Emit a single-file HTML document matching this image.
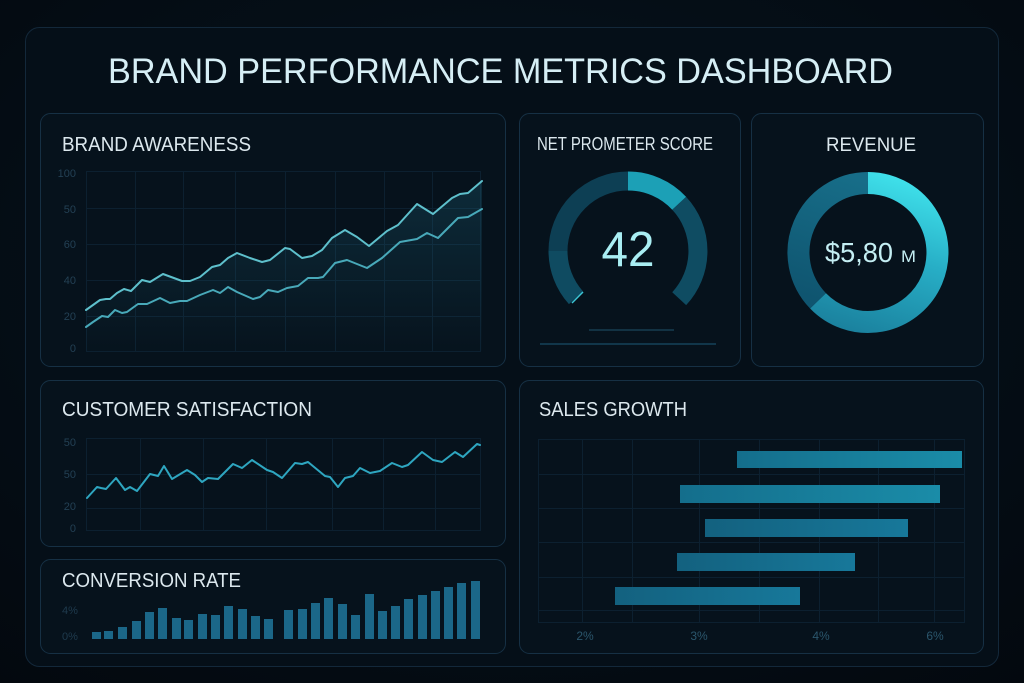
<!DOCTYPE html>
<html>
<head>
<meta charset="utf-8">
<style>
html,body{margin:0;padding:0;background:#040a11;}
svg{display:block;}
text{font-family:"Liberation Sans",sans-serif;}
</style>
</head>
<body>
<svg width="1024" height="683" viewBox="0 0 1024 683" xmlns="http://www.w3.org/2000/svg">
<defs>
  <radialGradient id="bgG" cx="0.5" cy="0.4" r="0.8">
    <stop offset="0" stop-color="#071520"/>
    <stop offset="1" stop-color="#03080e"/>
  </radialGradient>
  <linearGradient id="areaG" x1="0" y1="0" x2="0" y2="1">
    <stop offset="0" stop-color="#2a8fae" stop-opacity="0.2"/>
    <stop offset="1" stop-color="#2a8fae" stop-opacity="0.01"/>
  </linearGradient>
  <linearGradient id="revBright" gradientUnits="userSpaceOnUse" x1="880" y1="172" x2="830" y2="330">
    <stop offset="0" stop-color="#3fe0ea"/>
    <stop offset="0.45" stop-color="#27aec6"/>
    <stop offset="1" stop-color="#1a7f9c"/>
  </linearGradient>
  <linearGradient id="revDark" gradientUnits="userSpaceOnUse" x1="820" y1="300" x2="860" y2="180">
    <stop offset="0" stop-color="#0f5570"/>
    <stop offset="1" stop-color="#176d88"/>
  </linearGradient>
  <linearGradient id="barG1" x1="0" y1="0" x2="1" y2="0">
    <stop offset="0" stop-color="#146e8c"/>
    <stop offset="1" stop-color="#1a8ca8"/>
  </linearGradient>
  <linearGradient id="barG2" x1="0" y1="0" x2="1" y2="0">
    <stop offset="0" stop-color="#13617f"/>
    <stop offset="1" stop-color="#17789a"/>
  </linearGradient>
</defs>

<rect x="0" y="0" width="1024" height="683" fill="url(#bgG)"/>
<rect x="25.5" y="27.5" width="973" height="639" rx="14" fill="#050f18" stroke="#13283a" stroke-width="1"/>

<text x="108" y="83" font-size="35" fill="#d6eef5" textLength="785" lengthAdjust="spacingAndGlyphs">BRAND PERFORMANCE METRICS DASHBOARD</text>

<rect x="40.5" y="113.5" width="465" height="253" rx="10" fill="#06121c" stroke="#163044"/>
<rect x="519.5" y="113.5" width="221" height="253" rx="10" fill="#06121c" stroke="#163044"/>
<rect x="751.5" y="113.5" width="232" height="253" rx="10" fill="#06121c" stroke="#163044"/>
<rect x="40.5" y="380.5" width="465" height="166" rx="10" fill="#06121c" stroke="#163044"/>
<rect x="40.5" y="559.5" width="465" height="94" rx="10" fill="#06121c" stroke="#163044"/>
<rect x="519.5" y="380.5" width="464" height="273" rx="10" fill="#06121c" stroke="#163044"/>

<!-- BRAND AWARENESS -->
<text x="62" y="151" font-size="20" fill="#dce8ee" textLength="189" lengthAdjust="spacingAndGlyphs">BRAND AWARENESS</text>
<g stroke="#0c2030" stroke-width="1" fill="none">
  <rect x="86.5" y="171.5" width="394" height="180"/>
  <line x1="135.5" y1="171" x2="135.5" y2="351"/>
  <line x1="183.5" y1="171" x2="183.5" y2="351"/>
  <line x1="235.5" y1="171" x2="235.5" y2="351"/>
  <line x1="285.5" y1="171" x2="285.5" y2="351"/>
  <line x1="335.5" y1="171" x2="335.5" y2="351"/>
  <line x1="384.5" y1="171" x2="384.5" y2="351"/>
  <line x1="432.5" y1="171" x2="432.5" y2="351"/>
  <line x1="86" y1="208.5" x2="480" y2="208.5"/>
  <line x1="86" y1="244.5" x2="480" y2="244.5"/>
  <line x1="86" y1="280.5" x2="480" y2="280.5"/>
  <line x1="86" y1="316.5" x2="480" y2="316.5"/>
</g>
<g font-size="11" fill="#234054" text-anchor="end">
  <text x="76" y="177">100</text>
  <text x="76" y="213">50</text>
  <text x="76" y="248">60</text>
  <text x="76" y="284">40</text>
  <text x="76" y="320">20</text>
  <text x="76" y="352">0</text>
</g>
<path d="M86,310 93,305 100,300 106,299 110,299 117,293 124,289 131,291 142,280 150,282 163,274 182,281 190,281 200,277 212,267 220,265 228,258 237,253 250,258 262,262 270,260 285,248 290,249 302,258 312,256 322,250 332,238 345,230 357,237 369,246 387,231 398,225 417,204 433,214 452,198 460,194 468,193 482,181 L482,351 L86,351 Z" fill="url(#areaG)"/>
<polyline points="86,327 93,322 102,316 108,317 115,310 122,313 127,312 138,304 147,304 160,298 170,303 180,301 187,301 200,295 213,290 220,293 228,287 237,292 253,299 260,297 268,290 278,292 287,288 298,286 308,278 318,278 323,277 335,263 347,260 367,268 382,258 400,242 417,239 427,233 438,238 458,218 468,217 482,209" fill="none" stroke="#48a9b9" stroke-width="2" stroke-linejoin="round" stroke-linecap="round"/>
<polyline points="86,310 93,305 100,300 106,299 110,299 117,293 124,289 131,291 142,280 150,282 163,274 182,281 190,281 200,277 212,267 220,265 228,258 237,253 250,258 262,262 270,260 285,248 290,249 302,258 312,256 322,250 332,238 345,230 357,237 369,246 387,231 398,225 417,204 433,214 452,198 460,194 468,193 482,181" fill="none" stroke="#5ec0cc" stroke-width="2" stroke-linejoin="round" stroke-linecap="round"/>

<!-- NET PROMOTER SCORE -->
<text x="537" y="150" font-size="18" fill="#dce8ee" textLength="176" lengthAdjust="spacingAndGlyphs">NET PROMETER SCORE</text>
<g fill="none" stroke-width="19">
  <path d="M576.0,297.8 A70,70 0 0 1 558,251" stroke="#0f4b61"/>
  <path d="M558,251 A70,70 0 0 1 628,181" stroke="#0d3f54"/>
  <path d="M628,181 A70,70 0 0 1 679.2,203.3" stroke="#1ca0b6"/>
  <path d="M679.2,203.3 A70,70 0 0 1 679.2,298.7" stroke="#0f4c62"/>
</g>
<line x1="572" y1="303" x2="583" y2="292" stroke="#3cc6d6" stroke-width="1.5"/>
<text x="628" y="266" font-size="49" fill="#a9eef3" text-anchor="middle" textLength="53" lengthAdjust="spacingAndGlyphs">42</text>
<line x1="589" y1="330" x2="674" y2="330" stroke="#163d50" stroke-width="1.5"/>
<line x1="540" y1="344" x2="716" y2="344" stroke="#15435a" stroke-width="1.5"/>

<!-- REVENUE -->
<text x="826" y="151" font-size="19" fill="#dce8ee" textLength="90" lengthAdjust="spacingAndGlyphs">REVENUE</text>
<g fill="none" stroke-width="22">
  <path d="M868,183 A69.5,69.5 0 1 1 818.0,300.8" stroke="url(#revBright)"/>
  <path d="M818.0,300.8 A69.5,69.5 0 0 1 868,183" stroke="url(#revDark)"/>
</g>
<text x="825" y="262" font-size="28" fill="#c4eef3" textLength="68" lengthAdjust="spacingAndGlyphs">$5,80</text>
<text x="901" y="262" font-size="17" fill="#c4eef3" textLength="15" lengthAdjust="spacingAndGlyphs">M</text>

<!-- CUSTOMER SATISFACTION -->
<text x="62" y="416" font-size="20" fill="#dce8ee" textLength="250" lengthAdjust="spacingAndGlyphs">CUSTOMER SATISFACTION</text>
<g stroke="#0c2030" stroke-width="1" fill="none">
  <rect x="86.5" y="438.5" width="394" height="92"/>
  <line x1="140.5" y1="438" x2="140.5" y2="530"/>
  <line x1="203.5" y1="438" x2="203.5" y2="530"/>
  <line x1="266.5" y1="438" x2="266.5" y2="530"/>
  <line x1="332.5" y1="438" x2="332.5" y2="530"/>
  <line x1="383.5" y1="438" x2="383.5" y2="530"/>
  <line x1="435.5" y1="438" x2="435.5" y2="530"/>
  <line x1="86" y1="474.5" x2="480" y2="474.5"/>
  <line x1="86" y1="508.5" x2="480" y2="508.5"/>
</g>
<g font-size="11" fill="#234054" text-anchor="end">
  <text x="76" y="446">50</text>
  <text x="76" y="478">50</text>
  <text x="76" y="510">20</text>
  <text x="76" y="532">0</text>
</g>
<polyline points="87,498 97,487 101,488 106,489 116,478 125,490 130,487 137,491 150,474 158,476 164,466 172,479 187,470 195,475 202,482 208,478 218,479 233,464 242,468 252,460 267,470 273,472 282,478 295,463 302,464 308,462 325,476 330,477 338,487 345,478 353,476 360,468 370,473 380,471 392,463 402,467 408,465 422,452 433,460 442,462 455,452 463,457 477,444 480,445" fill="none" stroke="#2ea6c0" stroke-width="2" stroke-linejoin="round" stroke-linecap="round"/>

<!-- CONVERSION RATE -->
<text x="62" y="587" font-size="20" fill="#dce8ee" textLength="179" lengthAdjust="spacingAndGlyphs">CONVERSION RATE</text>
<g font-size="11" fill="#1f3b4e">
  <text x="62" y="614">4%</text>
  <text x="62" y="640">0%</text>
</g>
<g fill="#1b6788">
  <rect x="92" y="632" width="9" height="7"/>
  <rect x="104" y="631" width="9" height="8"/>
  <rect x="118" y="627" width="9" height="12"/>
  <rect x="132" y="621" width="9" height="18"/>
  <rect x="145" y="612" width="9" height="27"/>
  <rect x="158" y="608" width="9" height="31"/>
  <rect x="172" y="618" width="9" height="21"/>
  <rect x="184" y="620" width="9" height="19"/>
  <rect x="198" y="614" width="9" height="25"/>
  <rect x="211" y="615" width="9" height="24"/>
  <rect x="224" y="606" width="9" height="33"/>
  <rect x="238" y="609" width="9" height="30"/>
  <rect x="251" y="616" width="9" height="23"/>
  <rect x="264" y="619" width="9" height="20"/>
  <rect x="284" y="610" width="9" height="29"/>
  <rect x="298" y="609" width="9" height="30"/>
  <rect x="311" y="603" width="9" height="36"/>
  <rect x="324" y="598" width="9" height="41"/>
  <rect x="338" y="604" width="9" height="35"/>
  <rect x="351" y="615" width="9" height="24"/>
  <rect x="365" y="594" width="9" height="45"/>
  <rect x="378" y="611" width="9" height="28"/>
  <rect x="391" y="606" width="9" height="33"/>
  <rect x="404" y="599" width="9" height="40"/>
  <rect x="418" y="595" width="9" height="44"/>
  <rect x="431" y="591" width="9" height="48"/>
  <rect x="444" y="587" width="9" height="52"/>
  <rect x="457" y="583" width="9" height="56"/>
  <rect x="471" y="581" width="9" height="58"/>
</g>

<!-- SALES GROWTH -->
<text x="539" y="416" font-size="20" fill="#dce8ee" textLength="148" lengthAdjust="spacingAndGlyphs">SALES GROWTH</text>
<g stroke="#0c2030" stroke-width="1" fill="none">
  <rect x="538.5" y="439.5" width="426" height="183"/>
  <line x1="582.5" y1="439" x2="582.5" y2="622"/>
  <line x1="632.5" y1="439" x2="632.5" y2="622"/>
  <line x1="699.5" y1="439" x2="699.5" y2="622"/>
  <line x1="759.5" y1="439" x2="759.5" y2="622"/>
  <line x1="819.5" y1="439" x2="819.5" y2="622"/>
  <line x1="878.5" y1="439" x2="878.5" y2="622"/>
  <line x1="934.5" y1="439" x2="934.5" y2="622"/>
  <line x1="538" y1="474.5" x2="964" y2="474.5"/>
  <line x1="538" y1="508.5" x2="964" y2="508.5"/>
  <line x1="538" y1="542.5" x2="964" y2="542.5"/>
  <line x1="538" y1="577.5" x2="964" y2="577.5"/>
  <line x1="538" y1="610.5" x2="964" y2="610.5"/>
</g>
<rect x="737" y="451" width="225" height="17" fill="url(#barG1)"/>
<rect x="680" y="485" width="260" height="18" fill="url(#barG1)"/>
<rect x="705" y="519" width="203" height="18" fill="url(#barG2)"/>
<rect x="677" y="553" width="178" height="18" fill="url(#barG2)"/>
<rect x="615" y="587" width="185" height="18" fill="url(#barG2)"/>
<g font-size="12" fill="#2b566c" text-anchor="middle">
  <text x="585" y="640">2%</text>
  <text x="699" y="640">3%</text>
  <text x="821" y="640">4%</text>
  <text x="935" y="640">6%</text>
</g>
</svg>
</body>
</html>
